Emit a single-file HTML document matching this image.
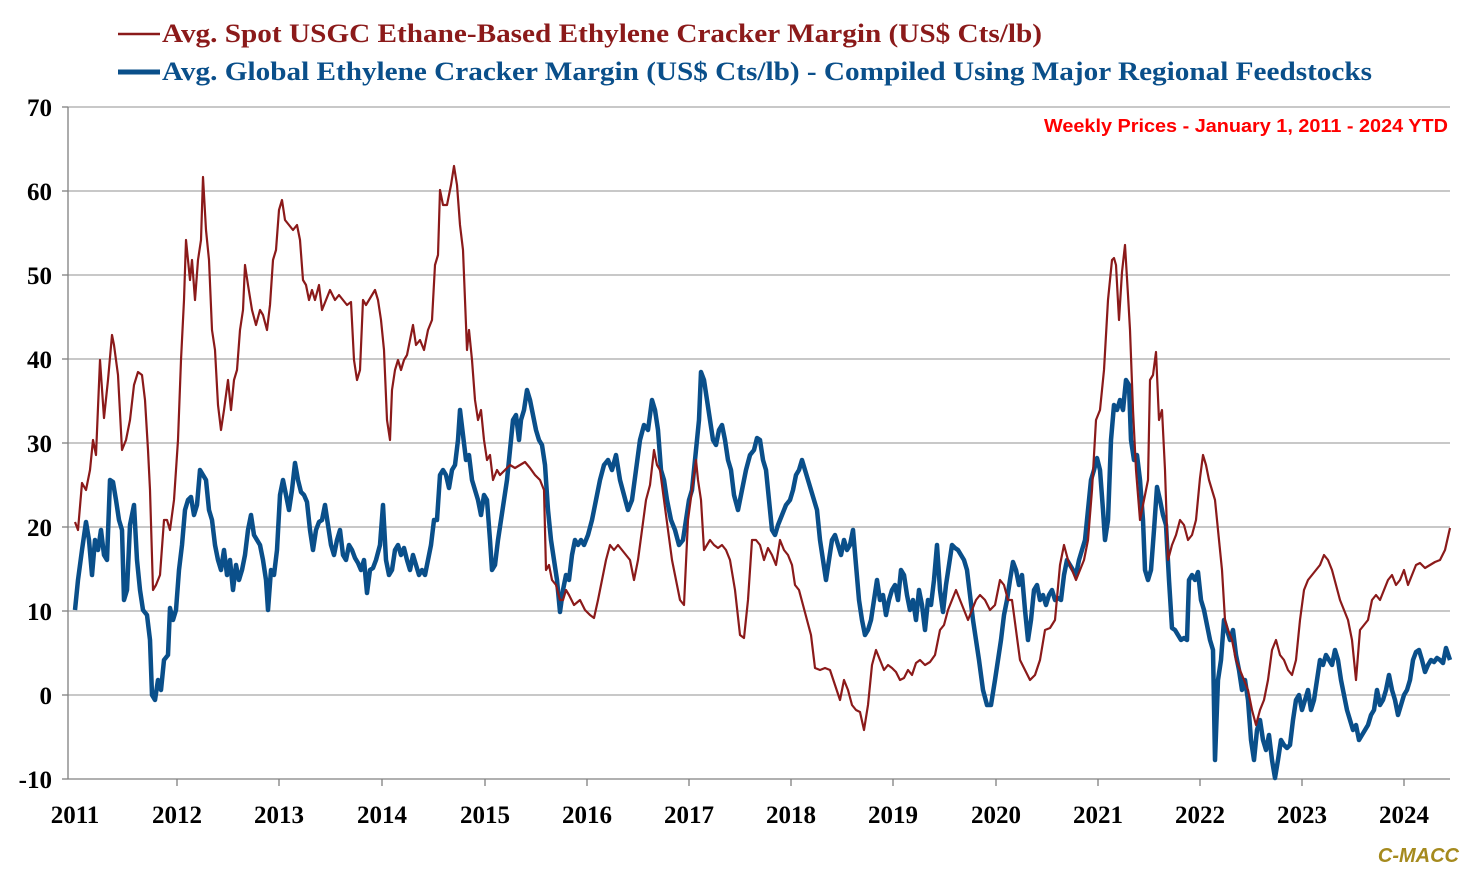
<!DOCTYPE html>
<html><head><meta charset="utf-8"><style>
body{margin:0;background:#fff;width:1479px;height:874px;overflow:hidden}
svg{display:block}
.ser{font-family:"Liberation Serif",serif;font-weight:bold}
</style></head><body>
<svg width="1479" height="874" viewBox="0 0 1479 874">
<g stroke="#a6a6a6" stroke-width="1.3">
<line x1="68" y1="107" x2="1450" y2="107"/>
<line x1="68" y1="191" x2="1450" y2="191"/>
<line x1="68" y1="275" x2="1450" y2="275"/>
<line x1="68" y1="359" x2="1450" y2="359"/>
<line x1="68" y1="443" x2="1450" y2="443"/>
<line x1="68" y1="527" x2="1450" y2="527"/>
<line x1="68" y1="611" x2="1450" y2="611"/>
<line x1="68" y1="695" x2="1450" y2="695"/>
</g>
<g stroke="#808080" stroke-width="1.3">
<line x1="68" y1="107" x2="68" y2="779"/>
<line x1="68" y1="779" x2="1450" y2="779"/>
<line x1="62" y1="107" x2="68" y2="107"/><line x1="62" y1="191" x2="68" y2="191"/><line x1="62" y1="275" x2="68" y2="275"/><line x1="62" y1="359" x2="68" y2="359"/><line x1="62" y1="443" x2="68" y2="443"/><line x1="62" y1="527" x2="68" y2="527"/><line x1="62" y1="611" x2="68" y2="611"/><line x1="62" y1="695" x2="68" y2="695"/><line x1="62" y1="779" x2="68" y2="779"/>
<line x1="177" y1="779" x2="177" y2="786"/><line x1="279" y1="779" x2="279" y2="786"/><line x1="382" y1="779" x2="382" y2="786"/><line x1="485" y1="779" x2="485" y2="786"/><line x1="587" y1="779" x2="587" y2="786"/><line x1="689" y1="779" x2="689" y2="786"/><line x1="791" y1="779" x2="791" y2="786"/><line x1="893" y1="779" x2="893" y2="786"/><line x1="996" y1="779" x2="996" y2="786"/><line x1="1098" y1="779" x2="1098" y2="786"/><line x1="1200" y1="779" x2="1200" y2="786"/><line x1="1302" y1="779" x2="1302" y2="786"/><line x1="1404" y1="779" x2="1404" y2="786"/>
</g>
<g class="ser" font-size="25" fill="#000" text-anchor="end">
<text x="52" y="116">70</text><text x="52" y="200">60</text><text x="52" y="284">50</text><text x="52" y="368">40</text><text x="52" y="452">30</text><text x="52" y="536">20</text><text x="52" y="620">10</text><text x="52" y="704">0</text><text x="52" y="788">-10</text>
</g>
<g class="ser" font-size="25" fill="#000" text-anchor="middle">
<text x="75" y="823">2011</text><text x="177" y="823">2012</text><text x="279" y="823">2013</text><text x="382" y="823">2014</text><text x="485" y="823">2015</text><text x="587" y="823">2016</text><text x="689" y="823">2017</text><text x="791" y="823">2018</text><text x="893" y="823">2019</text><text x="996" y="823">2020</text><text x="1098" y="823">2021</text><text x="1200" y="823">2022</text><text x="1302" y="823">2023</text><text x="1404" y="823">2024</text>
</g>
<line x1="118" y1="34" x2="160" y2="34" stroke="#8b1a1a" stroke-width="2.5"/>
<text class="ser" x="162" y="42" font-size="26" fill="#8b1a1a" textLength="880" lengthAdjust="spacingAndGlyphs">Avg. Spot USGC Ethane-Based Ethylene Cracker Margin (US$ Cts/lb)</text>
<line x1="118" y1="72" x2="160" y2="72" stroke="#0a4f8a" stroke-width="5"/>
<text class="ser" x="162" y="80" font-size="26" fill="#0a4f8a" textLength="1210" lengthAdjust="spacingAndGlyphs">Avg. Global Ethylene Cracker Margin (US$ Cts/lb) - Compiled Using Major Regional Feedstocks</text>
<text x="1044" y="132" font-family="Liberation Sans,sans-serif" font-weight="bold" font-size="18" fill="#ff0000" textLength="404" lengthAdjust="spacingAndGlyphs">Weekly Prices - January 1, 2011 - 2024 YTD</text>
<text x="1459" y="862" font-family="Liberation Sans,sans-serif" font-weight="bold" font-style="italic" font-size="20" fill="#a58a1e" text-anchor="end">C-MACC</text>
<polyline fill="none" stroke="#0a4f8a" stroke-width="4.5" stroke-linejoin="round" points="75,610 78,580 82,550 86,522 89,540 92,575 95,540 98,550 101,530 104,555 107,560 110,480 113,482 116,500 119,520 122,530 124,600 127,590 130,525 134,505 137,560 140,590 143,610 147,615 150,640 152,695 155,700 158,680 161,690 164,660 168,655 170,608 173,620 176,610 179,570 182,545 185,510 188,500 191,497 194,515 197,505 200,470 203,475 206,480 209,510 212,520 215,545 218,560 221,570 224,550 227,575 230,560 233,590 236,565 239,580 242,570 245,555 248,530 251,515 254,535 257,540 260,545 263,560 266,580 268,610 271,570 274,575 277,550 280,495 283,480 286,495 289,510 292,490 295,463 298,480 301,492 304,495 307,502 310,530 313,550 316,530 319,522 322,520 325,505 328,525 331,545 334,555 337,540 340,530 343,555 346,560 349,545 352,550 355,558 358,563 361,570 364,560 367,593 370,570 373,568 376,560 380,545 383,505 386,560 389,575 392,570 395,550 398,545 401,555 404,548 407,560 410,570 413,555 416,565 419,575 422,570 425,575 428,560 431,545 434,520 437,520 440,475 443,470 446,475 449,488 452,470 455,465 458,440 460,410 463,435 466,460 469,455 472,480 475,490 478,500 481,515 484,495 487,500 490,540 492,570 495,565 498,540 501,520 504,500 507,480 510,450 513,420 516,415 519,440 521,420 524,410 527,390 530,400 533,415 536,430 539,440 542,445 545,465 548,510 551,540 554,560 557,580 560,612 563,590 566,575 569,580 572,555 575,540 578,545 581,540 584,545 588,535 592,520 596,500 600,480 604,465 608,460 612,470 616,455 620,480 624,495 628,510 632,500 636,470 640,440 644,425 648,430 652,400 655,410 658,430 661,470 664,480 667,500 671,520 675,530 679,545 683,540 686,520 689,500 692,490 696,450 699,420 701,372 704,380 707,400 710,420 713,440 716,445 719,430 722,425 725,440 728,460 731,470 734,495 738,510 742,490 746,470 750,455 754,450 757,438 760,440 763,460 766,470 769,500 772,530 775,535 778,525 782,515 786,505 790,500 793,490 796,475 799,470 802,460 805,470 808,480 811,490 814,500 817,510 820,540 823,560 826,580 829,560 832,540 835,535 838,545 841,555 844,540 847,550 850,545 853,530 856,565 859,600 862,620 865,635 868,630 871,620 874,600 877,580 880,600 883,595 886,615 889,600 892,590 895,585 898,600 901,570 904,575 907,595 910,610 913,600 916,620 919,590 922,605 925,630 928,600 931,605 934,580 937,545 940,590 943,612 946,585 949,565 952,545 955,548 958,550 961,555 964,560 967,570 970,595 973,620 976,640 979,660 983,690 987,705 991,705 995,680 998,660 1001,640 1004,615 1007,600 1010,580 1013,562 1016,570 1019,585 1022,575 1025,610 1028,640 1031,620 1034,590 1037,585 1040,600 1043,595 1046,605 1049,595 1052,590 1055,600 1058,598 1061,600 1064,575 1067,560 1070,565 1073,570 1076,575 1079,560 1082,550 1085,540 1088,510 1091,480 1094,470 1097,458 1100,470 1103,510 1105,540 1108,520 1111,440 1114,405 1117,410 1120,400 1123,410 1126,380 1129,385 1131,440 1134,460 1137,455 1140,480 1143,520 1145,570 1148,580 1151,570 1154,530 1157,487 1160,500 1163,515 1166,525 1169,580 1172,628 1175,630 1178,635 1181,640 1184,638 1187,640 1189,580 1192,575 1195,580 1198,572 1201,600 1204,610 1207,625 1210,640 1213,650 1215,760 1218,680 1221,660 1224,620 1227,630 1230,640 1233,630 1236,655 1239,670 1242,690 1245,680 1248,700 1251,740 1254,760 1257,730 1260,720 1263,740 1266,750 1269,735 1272,760 1275,778 1278,760 1281,740 1284,745 1287,748 1290,745 1293,720 1296,700 1299,695 1302,710 1305,700 1308,690 1311,710 1314,700 1317,680 1320,660 1323,665 1326,655 1329,660 1332,665 1335,650 1338,660 1341,680 1344,695 1347,710 1350,720 1353,730 1356,725 1359,740 1362,735 1365,730 1368,725 1371,715 1374,710 1377,690 1380,705 1383,700 1386,690 1389,675 1392,690 1395,700 1398,715 1401,705 1404,695 1407,690 1410,680 1413,660 1416,652 1419,650 1422,660 1425,672 1428,665 1431,660 1434,662 1437,658 1440,660 1443,663 1446,648 1450,660"/>
<polyline fill="none" stroke="#8b1a1a" stroke-width="2.2" stroke-linejoin="round" points="75,522 78,530 82,483 86,490 90,470 93,440 96,455 100,360 104,418 108,380 112,335 114,345 118,375 122,450 126,440 130,420 134,385 138,372 142,375 145,400 148,450 150,490 153,590 156,585 160,575 164,520 167,520 170,530 174,500 178,440 181,360 184,300 186,240 190,280 192,260 195,300 198,260 201,240 203,177 206,230 209,260 212,330 215,350 218,405 221,430 224,410 228,380 231,410 234,380 237,370 240,330 243,310 245,265 248,285 252,310 256,325 260,310 263,315 267,330 270,305 273,260 276,250 279,210 282,200 285,220 289,225 293,230 297,225 300,240 303,280 306,285 309,300 312,290 315,300 319,285 322,310 326,300 330,290 335,300 339,295 343,300 347,305 351,302 354,360 357,380 360,370 363,300 366,305 369,300 372,295 375,290 378,300 381,320 384,350 387,420 390,440 392,390 395,370 398,360 401,370 404,360 407,355 410,340 413,325 416,345 420,340 424,350 428,330 432,320 435,265 438,255 440,190 443,205 447,205 451,185 454,166 457,185 460,225 463,250 465,300 467,350 469,330 472,360 475,400 478,420 481,410 484,440 487,460 490,455 493,480 497,470 500,475 505,470 510,465 515,468 520,465 525,462 530,468 535,475 540,480 544,490 546,570 549,565 552,580 556,585 560,600 563,600 566,590 569,595 574,605 580,600 585,610 590,615 594,618 598,600 602,580 606,560 610,545 614,550 618,545 622,550 626,555 630,560 634,580 638,560 642,530 646,500 650,485 654,450 657,465 660,470 664,500 668,530 672,560 676,580 680,600 684,605 688,520 692,490 696,460 698,480 701,500 704,550 707,545 710,540 714,545 718,548 722,545 726,550 730,560 735,590 740,635 744,638 748,600 752,540 756,540 760,545 764,560 768,548 772,555 776,565 780,540 784,550 788,555 792,565 795,585 799,590 803,605 807,620 811,635 815,668 820,670 825,668 830,670 835,685 840,700 844,680 848,690 852,705 856,710 860,712 864,730 868,705 872,665 876,650 880,660 884,670 888,665 892,668 896,672 900,680 904,678 908,670 912,675 916,663 920,660 925,665 930,662 935,655 940,630 944,625 948,610 952,600 956,590 960,600 964,610 968,620 972,610 976,600 980,595 985,600 990,610 995,605 1000,580 1004,585 1008,600 1012,600 1016,630 1020,660 1025,670 1030,680 1035,675 1040,660 1045,630 1050,628 1055,620 1060,565 1064,545 1068,560 1072,570 1076,580 1080,570 1084,560 1088,540 1092,490 1096,420 1100,410 1104,370 1108,300 1112,260 1114,258 1116,265 1119,320 1122,272 1125,245 1128,295 1130,330 1133,410 1136,470 1140,520 1144,500 1148,480 1150,380 1153,375 1156,352 1159,420 1162,410 1165,470 1168,560 1172,545 1176,535 1180,520 1184,525 1188,540 1192,535 1196,520 1200,478 1203,455 1206,465 1209,480 1212,490 1215,500 1218,530 1222,570 1225,620 1228,630 1232,640 1236,660 1240,670 1244,680 1248,690 1252,710 1256,725 1260,710 1264,700 1268,680 1272,650 1276,640 1280,655 1284,660 1288,670 1292,675 1296,660 1300,620 1304,590 1308,580 1312,575 1316,570 1320,565 1324,555 1328,560 1332,570 1336,585 1340,600 1344,610 1348,620 1352,640 1356,680 1360,630 1364,625 1368,620 1372,600 1376,595 1380,600 1384,590 1388,580 1392,575 1396,585 1400,580 1404,570 1408,585 1412,575 1416,565 1420,563 1425,568 1430,565 1435,562 1440,560 1445,550 1450,528"/>
</svg>
</body></html>
